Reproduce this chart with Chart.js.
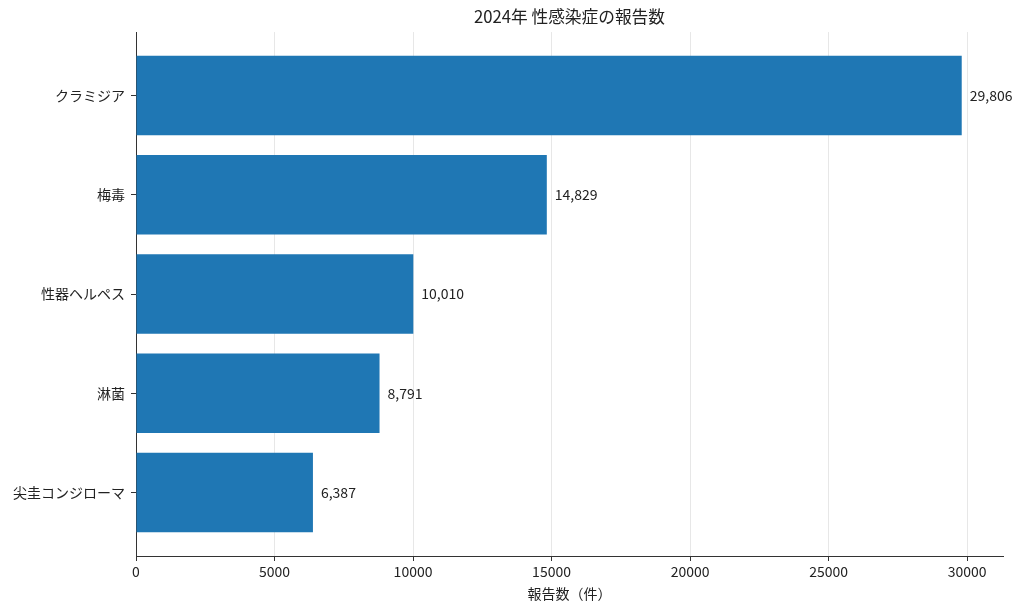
<!DOCTYPE html>
<html><head><meta charset="utf-8">
<script src="https://cdn.jsdelivr.net/npm/chart.js@4"></script>
<style>html,body{margin:0;padding:0;background:#fff;overflow:hidden}</style>
</head><body>
<canvas id="c" width="1024" height="612"></canvas>
<script>
const categories = ['クラミジア', '梅毒', '性器ヘルペス', '淋菌', '尖圭コンジローマ'];
const counts = [29806, 14829, 10010, 8791, 6387];
const xTicks = [0, 5000, 10000, 15000, 20000, 25000, 30000];
const chartTitle = '2024年 性感染症の報告数';
const xTitle = '報告数（件）';

const FONT = '"Noto Sans CJK JP", "Noto Sans", sans-serif';
const TXT = '#222';
const AX = '#333';

const valueLabels = {
  id: 'valueLabels',
  afterDraw(chart) {
    const ctx = chart.ctx;
    const meta = chart.getDatasetMeta(0);
    ctx.save();
    ctx.font = '14px ' + FONT;
    ctx.fillStyle = TXT;
    ctx.textAlign = 'left';
    ctx.textBaseline = 'middle';
    meta.data.forEach((bar, i) => {
      ctx.fillText(counts[i].toLocaleString('en-US'), bar.x + 8, bar.y);
    });
    ctx.restore();
  }
};

new Chart(document.getElementById('c'), {
  type: 'bar',
  data: {
    datasets: [{
      data: categories.map((c, i) => ({ x: counts[i], y: i })),
      backgroundColor: '#1f77b4',
      borderWidth: 0,
      barPercentage: 0.8,
      categoryPercentage: 1.0
    }]
  },
  options: {
    indexAxis: 'y',
    responsive: false,
    animation: false,
    devicePixelRatio: 1,
    layout: { padding: { left: 0, right: 21, top: 0, bottom: 0 } },
    plugins: {
      legend: { display: false },
      tooltip: { enabled: false },
      title: {
        display: true,
        text: chartTitle,
        fullSize: false,
        color: TXT,
        font: { family: FONT, size: 16.7, weight: 'normal' },
        padding: { top: 7, bottom: 5 }
      }
    },
    scales: {
      x: {
        type: 'linear',
        position: 'bottom',
        min: 0,
        max: 31296,
        z: 1,
        afterBuildTicks: s => { s.ticks = xTicks.map(v => ({ value: v })); },
        afterFit: s => { s.height = 56; },
        ticks: {
          color: TXT,
          font: { family: FONT, size: 14 },
          padding: 2,
          maxRotation: 0,
          callback: v => String(v)
        },
        grid: {
          color: 'rgba(176,176,176,0.3)',
          lineWidth: 1,
          tickColor: AX,
          tickLength: 5,
          drawOnChartArea: true
        },
        border: { display: true, color: AX, width: 1 },
        title: {
          display: true,
          text: xTitle,
          color: TXT,
          font: { family: FONT, size: 14 },
          padding: { top: 0, bottom: 10 }
        }
      },
      y: {
        type: 'linear',
        position: 'left',
        reverse: true,
        offset: false,
        min: -0.64,
        max: 4.64,
        z: 1,
        afterBuildTicks: s => { s.ticks = categories.map((c, i) => ({ value: i })); },
        afterFit: s => { s.width = 136; },
        ticks: {
          color: TXT,
          font: { family: FONT, size: 14 },
          padding: 6,
          callback: v => categories[Math.round(v)]
        },
        grid: {
          offset: false,
          drawOnChartArea: false,
          tickColor: AX,
          tickLength: 5
        },
        border: { display: true, color: AX, width: 1 }
      }
    }
  },
  plugins: [valueLabels]
});
</script>
</body></html>
